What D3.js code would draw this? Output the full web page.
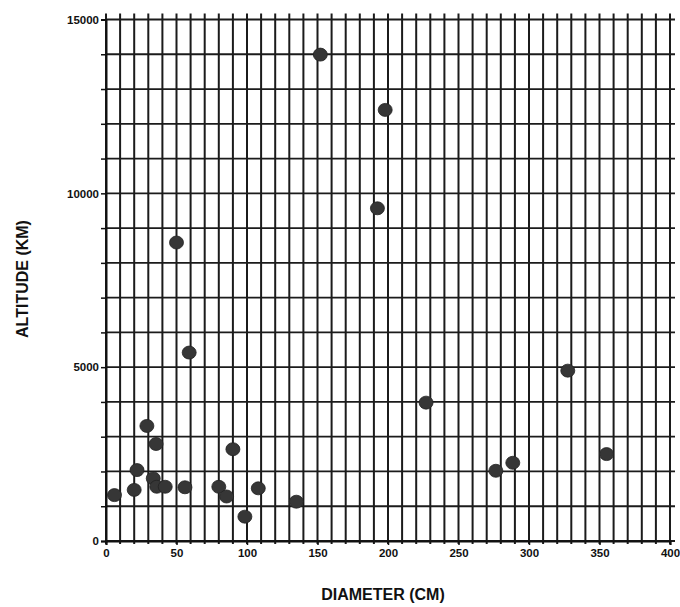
<!DOCTYPE html>
<html>
<head>
<meta charset="utf-8">
<script src="https://d3js.org/d3.v7.min.js"></script>
<style>
  body { margin: 0; background: #fff; }
  text { font-family: "Liberation Sans", Arial, sans-serif; font-weight: bold; fill: #111; }
</style>
</head>
<body>
<svg id="chart"></svg>
<script>
// diameter (cm) vs altitude (km)
var diameter = [6, 20, 22, 29, 35.5, 33.5, 36, 42, 56, 50, 59, 80, 85.5, 90, 98.5, 108, 135, 152, 198, 192.5, 227, 276.5, 288.5, 327.5, 355];
var altitude = [1320, 1470, 2040, 3310, 2790, 1800, 1560, 1560, 1545, 8585, 5420, 1560, 1280, 2640, 700, 1515, 1130, 13990, 12400, 9570, 3980, 2020, 2250, 4900, 2500];

var xTicks = [0, 50, 100, 150, 200, 250, 300, 350, 400];
var yTicks = [0, 5000, 10000, 15000];

var W = 680, H = 607;

var svg = d3.select('#chart')
            .attr('width', W)
            .attr('height', H);

var x = d3.scaleLinear().domain([0, 400]).range([106, 670]);
var y = d3.scaleLinear().domain([0, 15000]).range([541, 19.5]);

var points = diameter.map(function(d, i) { return {d: d, a: altitude[i]}; });

// grid, one line every 10 cm and every 1000 km
var grid = svg.append('g').attr('stroke', '#1b1b1b');

grid.selectAll('line.v')
    .data(d3.range(0, 401, 10))
  .enter().append('line')
    .attr('class', 'v')
    .attr('x1', d => x(d)).attr('x2', d => x(d))
    .attr('y1', y(0) + 3).attr('y2', y(15000) - 6)
    .attr('stroke-width', 2);

grid.selectAll('line.h')
    .data(d3.range(0, 15001, 1000))
  .enter().append('line')
    .attr('class', 'h')
    .attr('x1', x(0)).attr('x2', x(400) + 5)
    .attr('y1', d => y(d)).attr('y2', d => y(d))
    .attr('stroke-width', 1.8);

// axes
var xAxis = d3.axisBottom(x)
    .tickValues(xTicks)
    .tickSize(4)
    .tickPadding(4);

var yAxis = d3.axisLeft(y)
    .tickValues(d3.range(0, 15001, 1000))
    .tickSize(5)
    .tickPadding(2)
    .tickFormat(d => yTicks.indexOf(d) >= 0 ? d : '');

var gx = svg.append('g')
    .attr('transform', 'translate(0,' + y(0) + ')')
    .call(xAxis);

var gy = svg.append('g')
    .attr('transform', 'translate(' + x(0) + ',0)')
    .call(yAxis);

[gx, gy].forEach(function(g) {
  g.select('.domain').attr('stroke', '#111').attr('stroke-width', 2);
  g.selectAll('.tick line').attr('stroke', '#111').attr('stroke-width', 1.5);
  g.selectAll('.tick text')
    .attr('font-family', '"Liberation Sans", Arial, sans-serif')
    .attr('font-weight', 'bold')
    .attr('font-size', 11.5)
    .attr('fill', '#111');
});

// data points
svg.append('g')
  .selectAll('ellipse')
  .data(points)
  .enter().append('ellipse')
    .attr('cx', p => x(p.d))
    .attr('cy', p => y(p.a))
    .attr('rx', 7)
    .attr('ry', 6.5)
    .attr('fill', '#363636')
    .attr('stroke', '#222')
    .attr('stroke-width', 0.8);

// axis titles
svg.append('text')
    .attr('x', 383)
    .attr('y', 600)
    .attr('text-anchor', 'middle')
    .attr('font-size', 16)
    .text('DIAMETER (CM)');

svg.append('text')
    .attr('transform', 'translate(28,279) rotate(-90)')
    .attr('text-anchor', 'middle')
    .attr('font-size', 16)
    .text('ALTITUDE (KM)');
</script>
</body>
</html>
